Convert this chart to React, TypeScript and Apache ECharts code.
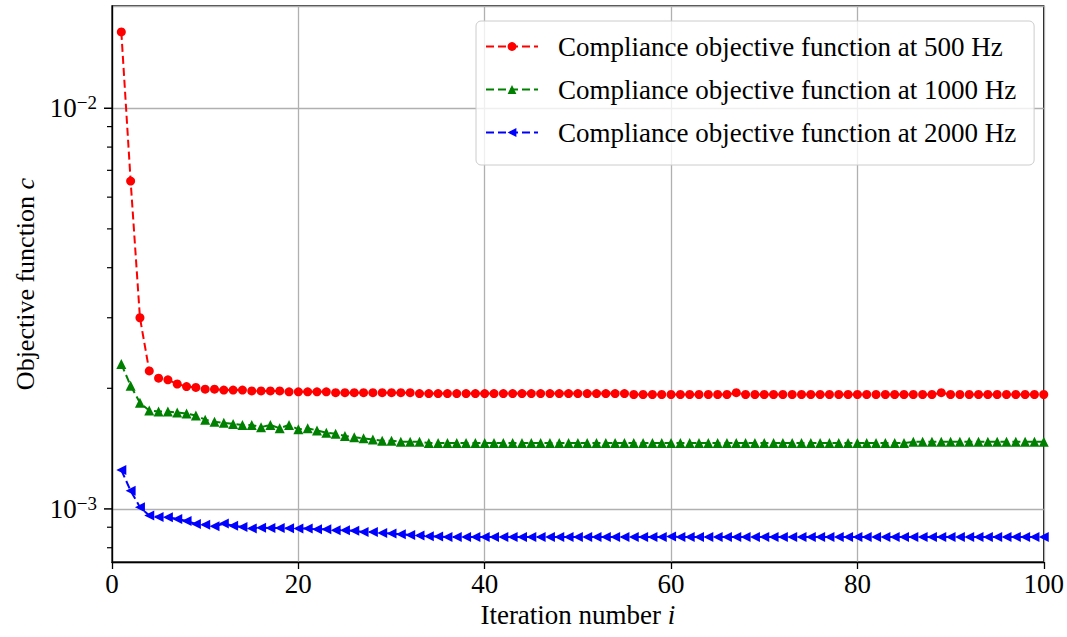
import React, { useEffect, useRef } from "react";
import * as echarts from "echarts";

const iterations = [
  1, 2, 3, 4, 5, 6, 7, 8, 9, 10, 11, 12, 13, 14, 15, 16, 17, 18, 19, 20,
  21, 22, 23, 24, 25, 26, 27, 28, 29, 30, 31, 32, 33, 34, 35, 36, 37, 38, 39, 40,
  41, 42, 43, 44, 45, 46, 47, 48, 49, 50, 51, 52, 53, 54, 55, 56, 57, 58, 59, 60,
  61, 62, 63, 64, 65, 66, 67, 68, 69, 70, 71, 72, 73, 74, 75, 76, 77, 78, 79, 80,
  81, 82, 83, 84, 85, 86, 87, 88, 89, 90, 91, 92, 93, 94, 95, 96, 97, 98, 99, 100,
];

const c500 = [
  0.01551, 0.00658, 0.0030, 0.00221, 0.00212, 0.0021, 0.00205, 0.00202, 0.00201, 0.00199,
  0.00199, 0.00198, 0.00198, 0.00198, 0.00197, 0.00197, 0.00197, 0.00197, 0.00196, 0.00196,
  0.00196, 0.00196, 0.00196, 0.00195, 0.00195, 0.00195, 0.00195, 0.00195, 0.00195, 0.00195,
  0.00195, 0.00195, 0.00194, 0.00194, 0.00194, 0.00194, 0.00194, 0.00194, 0.00194, 0.00194,
  0.00194, 0.00194, 0.00194, 0.00194, 0.00194, 0.00194, 0.00194, 0.00194, 0.00194, 0.00194,
  0.00194, 0.00194, 0.00194, 0.00194, 0.00194, 0.00193, 0.00193, 0.00193, 0.00193, 0.00193,
  0.00193, 0.00193, 0.00193, 0.00193, 0.00193, 0.00193, 0.00195, 0.00193, 0.00193, 0.00193,
  0.00193, 0.00193, 0.00193, 0.00193, 0.00193, 0.00193, 0.00193, 0.00193, 0.00193, 0.00193,
  0.00193, 0.00193, 0.00193, 0.00193, 0.00193, 0.00193, 0.00193, 0.00193, 0.00195, 0.00193,
  0.00193, 0.00193, 0.00193, 0.00193, 0.00193, 0.00193, 0.00193, 0.00193, 0.00193, 0.00193,
];

const c1000 = [
  0.0023, 0.00203, 0.00184, 0.00176, 0.00175, 0.00175, 0.00174, 0.00173, 0.00171, 0.00167,
  0.00165, 0.00164, 0.00163, 0.00162, 0.00162, 0.0016, 0.00162, 0.00159, 0.00162, 0.00158,
  0.00159, 0.00157, 0.00155, 0.00154, 0.00152, 0.00151, 0.0015, 0.00149, 0.00148, 0.00148,
  0.00147, 0.00147, 0.00147, 0.00146, 0.00146, 0.00146, 0.00146, 0.00146, 0.00146, 0.00146,
  0.00146, 0.00146, 0.00146, 0.00146, 0.00146, 0.00146, 0.00146, 0.00146, 0.00146, 0.00146,
  0.00146, 0.00146, 0.00146, 0.00146, 0.00146, 0.00146, 0.00146, 0.00146, 0.00146, 0.00146,
  0.00146, 0.00146, 0.00146, 0.00146, 0.00146, 0.00146, 0.00146, 0.00146, 0.00146, 0.00146,
  0.00146, 0.00146, 0.00146, 0.00146, 0.00146, 0.00146, 0.00146, 0.00146, 0.00146, 0.00146,
  0.00146, 0.00146, 0.00146, 0.00146, 0.00146, 0.00147, 0.00147, 0.00147, 0.00147, 0.00147,
  0.00147, 0.00147, 0.00147, 0.00147, 0.00147, 0.00147, 0.00147, 0.00147, 0.00147, 0.00147,
];

const c2000 = [
  0.00125, 0.00111, 0.00101, 0.000963, 0.000955, 0.000953, 0.000944, 0.000933, 0.000917, 0.000913,
  0.000905, 0.000919, 0.000908, 0.000901, 0.000894, 0.000897, 0.000896, 0.000896, 0.000895, 0.000893,
  0.000893, 0.000889, 0.000889, 0.000885, 0.000885, 0.000882, 0.000876, 0.000876, 0.000871, 0.000868,
  0.000865, 0.000861, 0.000858, 0.000855, 0.000853, 0.000851, 0.000851, 0.000851, 0.000851, 0.000851,
  0.000851, 0.000851, 0.000851, 0.000851, 0.000851, 0.000851, 0.000851, 0.000851, 0.000851, 0.000851,
  0.000851, 0.000851, 0.000851, 0.000851, 0.000851, 0.000851, 0.000851, 0.000851, 0.000851, 0.000853,
  0.000851, 0.000851, 0.000851, 0.000851, 0.000851, 0.000851, 0.000851, 0.000851, 0.000851, 0.000851,
  0.000851, 0.000851, 0.000851, 0.000851, 0.000851, 0.000851, 0.000851, 0.000851, 0.000851, 0.000851,
  0.000851, 0.000851, 0.000851, 0.000851, 0.000851, 0.000851, 0.000851, 0.000851, 0.000851, 0.000851,
  0.000851, 0.000851, 0.000851, 0.000851, 0.000851, 0.000851, 0.000851, 0.000851, 0.000851, 0.000851,
];

const seriesNames = [
  "Compliance objective function at 500 Hz",
  "Compliance objective function at 1000 Hz",
  "Compliance objective function at 2000 Hz",
];

const xTicks = [0, 20, 40, 60, 80, 100];
const yMajorTicks = [0.001, 0.01];
const yMinorTicks = [0.0008, 0.0009, 0.002, 0.003, 0.004, 0.005, 0.006, 0.007, 0.008, 0.009];
const yMin = 0.000737;
const yMax = 0.018;

const FONT = "Liberation Serif";

export default function App() {
  const ref = useRef<HTMLDivElement>(null);

  useEffect(() => {
    if (!ref.current) return;
    const chart = echarts.init(ref.current, undefined, { renderer: "svg" });

    const lineSeries = (name: string, values: number[], color: string, symbol: string, rotate: number, size: number) => ({
      name,
      type: "line",
      data: iterations.map((x, i) => [x, values[i]]),
      symbol,
      symbolSize: size,
      symbolRotate: rotate,
      showAllSymbol: true,
      lineStyle: { color, width: 2, type: [8, 4] },
      itemStyle: { color },
      z: 3,
    });

    chart.setOption({
      animation: false,
      textStyle: { fontFamily: FONT },
      grid: {
        left: 112,
        right: 22,
        top: 6,
        bottom: 75,
        show: true,
        borderColor: "#000",
        borderWidth: 1.3,
        backgroundColor: "transparent",
      },
      legend: {
        orient: "vertical",
        left: 476,
        top: 21,
        data: seriesNames,
        itemWidth: 52,
        itemHeight: 11,
        itemGap: 16,
        padding: [12, 18, 19, 9],
        backgroundColor: "rgba(255,255,255,0.8)",
        borderColor: "#cccccc",
        borderWidth: 1,
        borderRadius: 5,
        textStyle: {
          fontFamily: FONT,
          fontSize: 27,
          color: "#000",
          padding: [0, 0, 0, 15],
        },
      },
      xAxis: {
        type: "value",
        min: xTicks[0],
        max: xTicks[xTicks.length - 1],
        interval: 20,
        name: "Iteration number {i|i}",
        nameLocation: "middle",
        nameGap: 35,
        nameTextStyle: {
          fontFamily: FONT,
          fontSize: 27,
          color: "#000",
          rich: { i: { fontFamily: FONT, fontSize: 27, fontStyle: "italic", color: "#000" } },
        },
        axisLine: { show: true, lineStyle: { color: "#000", width: 1.3 } },
        axisTick: { show: true, inside: false, length: 7, lineStyle: { color: "#000", width: 1.3 } },
        axisLabel: { fontFamily: FONT, fontSize: 27, color: "#000", margin: 8 },
        splitLine: { show: true, lineStyle: { color: "#b0b0b0", width: 1.3 } },
      },
      yAxis: {
        type: "log",
        logBase: 10,
        min: yMin,
        max: yMax,
        name: "Objective function {i|c}",
        nameLocation: "middle",
        nameGap: 73,
        nameTextStyle: {
          fontFamily: FONT,
          fontSize: 26,
          color: "#000",
          rich: { i: { fontFamily: FONT, fontSize: 26, fontStyle: "italic", color: "#000" } },
        },
        axisLine: { show: true, lineStyle: { color: "#000", width: 1.3 } },
        axisTick: { show: false },
        axisLabel: {
          showMinLabel: false,
          showMaxLabel: false,
          margin: 15,
          color: "#000",
          formatter: (v: number) => {
            const e = Math.round(Math.log10(v));
            if (Math.abs(Math.log10(v) - e) > 1e-6) return "";
            return `{b|10}{s|\u2212${-e}}`;
          },
          rich: {
            b: { fontFamily: FONT, fontSize: 27, color: "#000", lineHeight: 30 },
            s: { fontFamily: FONT, fontSize: 19, color: "#000", verticalAlign: "top" },
          },
        },
        splitLine: { show: true, lineStyle: { color: "#b0b0b0", width: 1.3 } },
      },
      series: [
        lineSeries(seriesNames[0], c500, "#ff0000", "circle", 0, 9),
        lineSeries(seriesNames[1], c1000, "#008000", "triangle", 0, 10),
        lineSeries(seriesNames[2], c2000, "#0000ff", "triangle", 90, 10),
      ],
    });

    // y-axis tick marks (major and minor) placed through the axis' own log scale
    const px = chart.convertToPixel({ xAxisIndex: 0 }, xTicks[0]) as number;
    const tickElems: any[] = [];
    const addTick = (v: number, len: number, w: number) => {
      const py = chart.convertToPixel({ yAxisIndex: 0 }, v) as number;
      tickElems.push({
        type: "line",
        z: 50,
        shape: { x1: px - len, y1: py, x2: px, y2: py },
        style: { stroke: "#000", lineWidth: w },
      });
    };
    yMajorTicks.forEach((v) => addTick(v, 8, 1.5));
    yMinorTicks.forEach((v) => addTick(v, 5, 1.2));
    chart.setOption({ graphic: { elements: tickElems } });

    return () => chart.dispose();
  }, []);

  return (
    <div
      ref={ref}
      style={{ position: "absolute", left: 0, top: 0, width: 1067, height: 637, background: "#fff" }}
    />
  );
}
